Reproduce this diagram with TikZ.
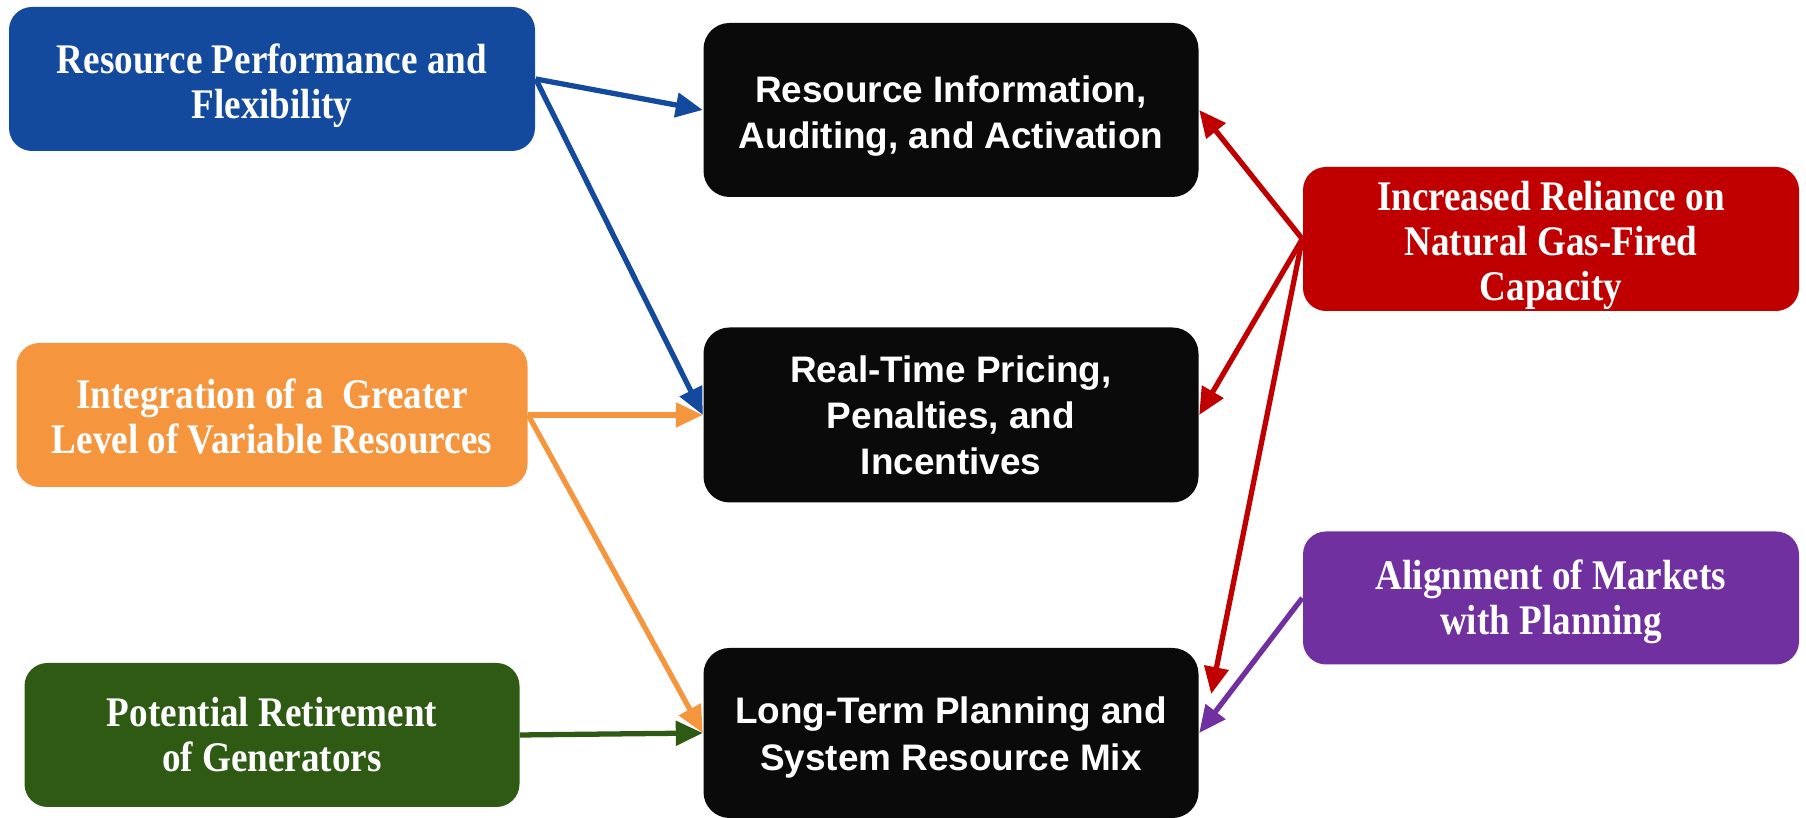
\documentclass[tikz,border=0pt]{standalone}
\usepackage{fontspec}
\setmainfont{Liberation Serif}
\setsansfont{Liberation Sans}
\newfontfamily\condserif{Liberation Serif}[FakeStretch=0.88]
\usetikzlibrary{arrows.meta}

\definecolor{resblue}{HTML}{134A9E}
\definecolor{resorange}{HTML}{F5963F}
\definecolor{resgreen}{HTML}{2F5A14}
\definecolor{resred}{HTML}{C00000}
\definecolor{respurple}{HTML}{7030A0}
\definecolor{resblack}{HTML}{0A0A0A}

% pushes a node's lines down by half of #1
\newcommand{\droptext}[1]{\rule{0pt}{\dimexpr0.72em+#1\relax}}

\tikzset{
  driver/.style={rounded corners=0.23cm, minimum height=1.44cm, inner sep=0pt,
    align=center, text=white, font=\condserif\bfseries\fontsize{12}{12.85}\selectfont},
  area/.style={fill=resblack, rounded corners=0.26cm, minimum width=4.95cm,
    minimum height=1.74cm, inner sep=0pt, align=center, text=white,
    font=\sffamily\bfseries\fontsize{10.5}{13.1}\selectfont},
  link/.style={line width=1.5pt, -{Triangle[length=0.27cm,width=0.24cm]}}
}

\begin{document}
\begin{tikzpicture}
        \useasboundingbox (0,0) rectangle (18.06,8.18);
        % drivers
        \node[driver, fill=resblue, minimum width=5.26cm] (perf) at (2.72,7.39) {\droptext{3.6pt}Resource Performance and\\Flexibility};
        \node[driver, fill=resorange, minimum width=5.11cm] (integ) at (2.72,4.03) {\droptext{0.6pt}Integration of a\ \ Greater\\Level of Variable Resources};
        \node[driver, fill=resgreen, minimum width=4.95cm] (retire) at (2.72,0.83) {Potential Retirement\\of Generators};
        \node[driver, fill=resred, minimum width=4.96cm] (gas) at (15.51,5.79) {\droptext{3.2pt}Increased Reliance on\\Natural Gas-Fired\\Capacity};
        \node[driver, fill=respurple, minimum width=4.96cm, minimum height=1.33cm] (align) at (15.51,2.2) {\droptext{2.2pt}Alignment of Markets\\with Planning};
        % focus areas
        \node[area] (info) at (9.51,7.08) {\droptext{3.6pt}Resource Information,\\Auditing, and Activation};
        \node[area, minimum height=1.75cm] (pricing) at (9.51,4.03) {Real-Time Pricing,\\Penalties, and\\Incentives};
        \node[area, minimum height=1.7cm] (planning) at (9.51,0.85) {\droptext{2.6pt}Long-Term Planning and\\System Resource Mix};
        % links
        \draw[link, resblue] (perf.east) -- (info.west);
        \draw[link, resblue] (perf.east) -- (pricing.west);
        \draw[link, resorange] (integ.east) -- (pricing.west);
        \draw[link, resorange] (integ.east) -- (planning.west);
        \draw[link, resgreen] (retire.east) -- (planning.west);
        \draw[link, resred] (gas.west) -- (info.east);
        \draw[link, resred] (gas.west) -- (pricing.east);
        \draw[link, resred] (gas.west) -- ([xshift=1.2mm,yshift=3.9mm]planning.east);
        \draw[link, respurple] (align.west) -- (planning.east);
        \end{tikzpicture}
\end{document}
